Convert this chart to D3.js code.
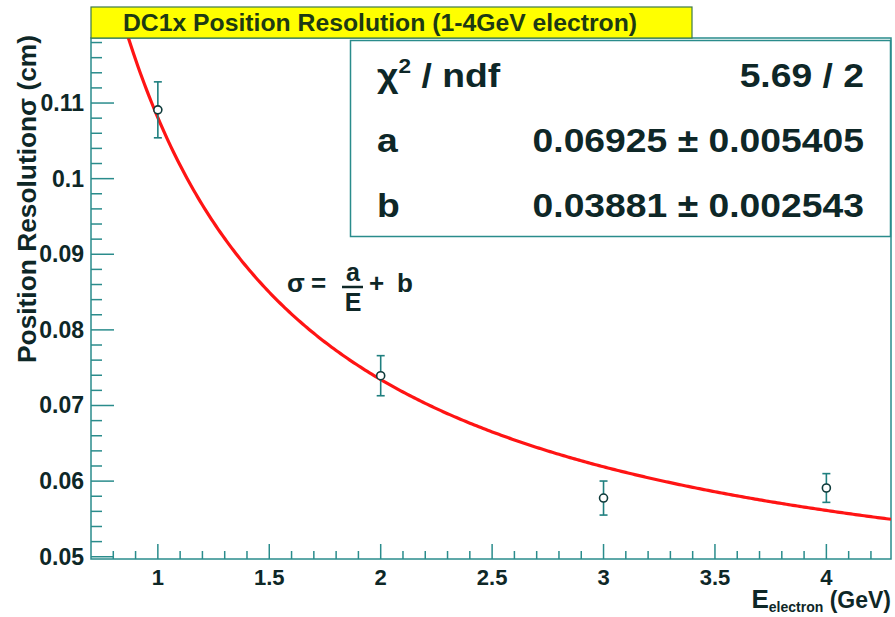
<!DOCTYPE html>
<html>
<head>
<meta charset="utf-8">
<script src="https://cdn.jsdelivr.net/npm/d3@7"></script>
<style>
  html, body { margin: 0; padding: 0; background: #fff; }
  svg { display: block; font-family: "Liberation Sans", Arial, Helvetica, sans-serif; }
</style>
</head>
<body>
<svg id="chart" width="895" height="617"></svg>
<script>
// ---- data ----
const energies = [1, 2, 3, 4];
const resolution = [0.1091, 0.07394, 0.05776, 0.05909];
const resolutionErr = [0.0037, 0.00265, 0.00225, 0.0019];
const fitA = 0.06925, fitAErr = 0.005405;
const fitB = 0.03881, fitBErr = 0.002543;
const chi2Text = "5.69 / 2";
const xTickValues = [1, 1.5, 2, 2.5, 3, 3.5, 4];
const xTickLabels = ["1", "1.5", "2", "2.5", "3", "3.5", "4"];
const yTickValues = [0.05, 0.06, 0.07, 0.08, 0.09, 0.1, 0.11];
const yTickLabels = ["0.05", "0.06", "0.07", "0.08", "0.09", "0.1", "0.11"];
const titleText = "DC1x Position Resolution (1-4GeV electron)";
const yLabelText = "Position Resolution\u03C3 (cm)";

// ---- layout ----
const svg = d3.select("#chart");
const L = 91, R = 891, T = 38, B = 559;
const axisCol = "#2a8c8c", textCol = "#0e2727";
const x = d3.scaleLinear().domain([0.7, 4.29]).range([L, R]);
const y = d3.scaleLinear().domain([0.0497, 0.1186]).range([B, T]);

// frame
svg.append("rect").attr("x", L).attr("y", T).attr("width", R - L).attr("height", B - T)
  .attr("fill", "none").attr("stroke", axisCol).attr("stroke-width", 1.5);

// x axis ticks
const xMinor = d3.range(8, 43).map(v => v / 10).filter(v => v >= 0.7 && v <= 4.29);
const xAx = svg.append("g");
xAx.selectAll("line.minor").data(xMinor).enter().append("line")
  .attr("x1", d => x(d)).attr("x2", d => x(d))
  .attr("y1", B).attr("y2", d => (Math.abs(d * 2 - Math.round(d * 2)) < 1e-6 ? B - 15 : B - 8))
  .attr("stroke", axisCol).attr("stroke-width", 1.5);
xAx.selectAll("text").data(xTickValues).enter().append("text")
  .attr("x", d => x(d)).attr("y", 585)
  .attr("text-anchor", "middle").attr("font-size", 22).attr("font-weight", "bold")
  .attr("fill", textCol).text((d, i) => xTickLabels[i]);

// y axis ticks
const yMinor = d3.range(50, 119, 2).map(v => v / 1000).filter(v => v <= 0.1186);
const yAx = svg.append("g");
yAx.selectAll("line").data(yMinor).enter().append("line")
  .attr("x1", L).attr("x2", (d, i) => (i % 5 === 0 ? L + 23 : L + 11))
  .attr("y1", d => y(d)).attr("y2", d => y(d))
  .attr("stroke", axisCol).attr("stroke-width", 1.5);
yAx.selectAll("text").data(yTickValues).enter().append("text")
  .attr("x", 84).attr("y", d => y(d) + 8)
  .attr("text-anchor", "end").attr("font-size", 23).attr("font-weight", "bold")
  .attr("fill", textCol).text((d, i) => yTickLabels[i]);

// y label
svg.append("text").attr("transform", "translate(36,199) rotate(-90)")
  .attr("text-anchor", "middle").attr("font-size", 25).attr("font-weight", "bold")
  .attr("fill", textCol).attr("textLength", 328).attr("lengthAdjust", "spacingAndGlyphs")
  .text(yLabelText);

// x label
const xl = svg.append("text").attr("x", 891).attr("y", 608).attr("text-anchor", "end")
  .attr("font-weight", "bold").attr("fill", textCol);
xl.append("tspan").attr("font-size", 26).text("E");
xl.append("tspan").attr("font-size", 14).attr("dy", 4).text("electron");
xl.append("tspan").attr("font-size", 23).attr("dy", -4).text(" (GeV)");

// fit curve
svg.append("clipPath").attr("id", "clip").append("rect")
  .attr("x", L).attr("y", T).attr("width", R - L).attr("height", B - T);
const curveX = d3.range(0.7, 4.2901, 0.01);
const line = d3.line().x(d => x(d)).y(d => y(fitA / d + fitB));
svg.append("path").datum(curveX).attr("d", line).attr("clip-path", "url(#clip)")
  .attr("fill", "none").attr("stroke", "#ff1414").attr("stroke-width", 3.2);

// data points with error bars
const pts = svg.append("g");
energies.forEach((e, i) => {
  const cx = x(e), v = resolution[i], err = resolutionErr[i];
  const g = pts.append("g").attr("stroke", "#1f7f7f").attr("stroke-width", 1.6).attr("fill", "none");
  g.append("line").attr("x1", cx).attr("x2", cx).attr("y1", y(v + err)).attr("y2", y(v) - 4);
  g.append("line").attr("x1", cx).attr("x2", cx).attr("y1", y(v) + 4).attr("y2", y(v - err));
  g.append("line").attr("x1", cx - 4).attr("x2", cx + 4).attr("y1", y(v + err)).attr("y2", y(v + err));
  g.append("line").attr("x1", cx - 4).attr("x2", cx + 4).attr("y1", y(v - err)).attr("y2", y(v - err));
  g.append("circle").attr("cx", cx).attr("cy", y(v)).attr("r", 4).attr("stroke", "#0e3a3a").attr("fill", "#fff");
});

// formula
const fg = svg.append("g").attr("font-weight", "bold").attr("fill", textCol);
fg.append("text").attr("x", 287).attr("y", 292).attr("font-size", 26).text("\u03C3");
fg.append("text").attr("x", 311).attr("y", 292).attr("font-size", 26).text("=");
fg.append("text").attr("x", 353).attr("y", 281).attr("text-anchor", "middle").attr("font-size", 25).text("a");
fg.append("line").attr("x1", 342).attr("x2", 363).attr("y1", 287).attr("y2", 287)
  .attr("stroke", textCol).attr("stroke-width", 2.5);
fg.append("text").attr("x", 353).attr("y", 311).attr("text-anchor", "middle").attr("font-size", 25).text("E");
fg.append("text").attr("x", 369).attr("y", 292).attr("font-size", 26).text("+");
fg.append("text").attr("x", 397).attr("y", 292).attr("font-size", 26).text("b");

// title box
svg.append("rect").attr("x", 91).attr("y", 7).attr("width", 601).attr("height", 31)
  .attr("fill", "#ffff00").attr("stroke", "#3d7a4a").attr("stroke-width", 1.2);
svg.append("text").attr("x", 380).attr("y", 31).attr("text-anchor", "middle")
  .attr("font-size", 23).attr("font-weight", "bold").attr("fill", "#1d3a14")
  .attr("textLength", 514).attr("lengthAdjust", "spacingAndGlyphs").text(titleText);

// stats box
svg.append("rect").attr("x", 350.5).attr("y", 40.5).attr("width", 540).attr("height", 196)
  .attr("fill", "#fff").attr("stroke", axisCol).attr("stroke-width", 1.5);
const st = svg.append("g").attr("fill", textCol).attr("font-size", 33).attr("font-weight", "bold");
const sx = 1.13;
function statText(xPos, yPos, anchor) {
  return st.append("text").attr("text-anchor", anchor)
    .attr("transform", `translate(${xPos},${yPos}) scale(${sx},1)`);
}
const chiT = statText(377, 87, "start");
chiT.append("tspan").text("\u03C7");
chiT.append("tspan").attr("font-size", 20).attr("dy", -14).text("2");
chiT.append("tspan").attr("dy", 14).text(" / ndf");
statText(864, 87, "end").text(chi2Text);
statText(377, 152, "start").text("a");
statText(864, 152, "end").text(fitA.toFixed(5) + " \u00B1 " + fitAErr.toFixed(6));
statText(377, 217, "start").text("b");
statText(864, 217, "end").text(fitB.toFixed(5) + " \u00B1 " + fitBErr.toFixed(6));
</script>
</body>
</html>
